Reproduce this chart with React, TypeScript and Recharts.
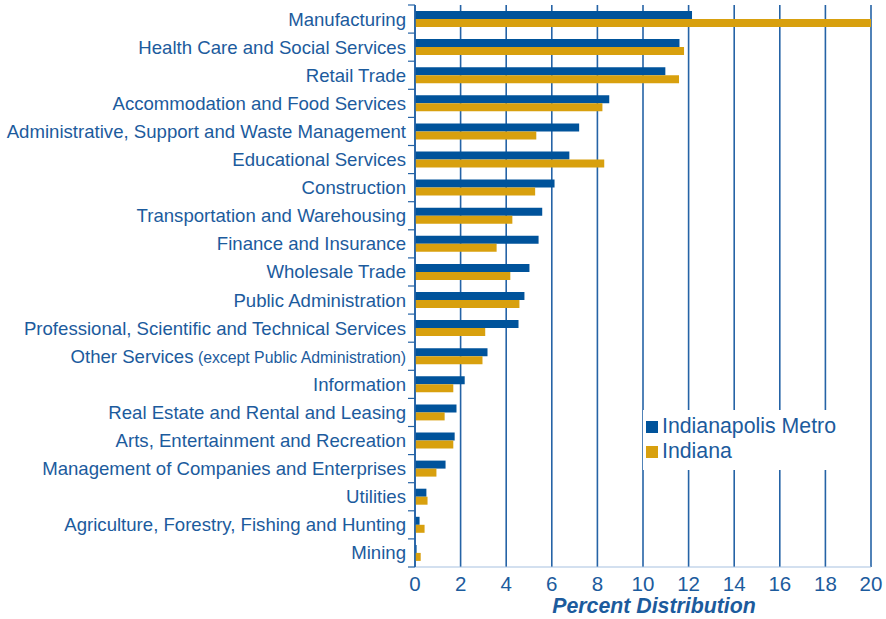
import { Bar, BarChart, CartesianGrid, Legend, XAxis, YAxis } from "recharts";

const industries = [
  "Manufacturing",
  "Health Care and Social Services",
  "Retail Trade",
  "Accommodation and Food Services",
  "Administrative, Support and Waste Management",
  "Educational Services",
  "Construction",
  "Transportation and Warehousing",
  "Finance and Insurance",
  "Wholesale Trade",
  "Public Administration",
  "Professional, Scientific and Technical Services",
  "Other Services (except Public Administration)",
  "Information",
  "Real Estate and Rental and Leasing",
  "Arts, Entertainment and Recreation",
  "Management of Companies and Enterprises",
  "Utilities",
  "Agriculture, Forestry, Fishing and Hunting",
  "Mining",
];

const metroValues = [
  12.15, 11.6, 10.98, 8.52, 7.2, 6.77, 6.12, 5.58, 5.42, 5.02, 4.8, 4.54, 3.18, 2.18, 1.82, 1.74, 1.34, 0.5, 0.2,
  0.07,
];
const indianaValues = [
  20.0, 11.8, 11.58, 8.22, 5.32, 8.3, 5.27, 4.27, 3.58, 4.18, 4.58, 3.08, 2.96, 1.68, 1.3, 1.68, 0.94, 0.55, 0.42,
  0.25,
];

const xTicks = [0, 2, 4, 6, 8, 10, 12, 14, 16, 18, 20];
const legendOrder = ["Indianapolis Metro", "Indiana"];

const data = industries.map((name, i) => ({ name, metro: metroValues[i], indiana: indianaValues[i] }));

const BLUE = "#00539b";
const GOLD = "#d8a00e";
const TEXT = "#1c5b9d";
const LINE = "#2563a6";
const FONT = "'Liberation Sans', Arial, Helvetica, sans-serif";
const BAND = 562 / industries.length;

function IndustryTick(props: any) {
  const { x, y, payload, index } = props;
  const label: string = payload.value;
  const paren = label.indexOf(" (");
  const main = paren >= 0 ? label.slice(0, paren) : label;
  const extra = paren >= 0 ? label.slice(paren) : "";
  return (
    <g>
      <line x1={x + 1} x2={x + 8} y1={y + BAND / 2} y2={y + BAND / 2} stroke={LINE} strokeWidth={1.2} />
      {index === 0 && <line x1={x + 1} x2={x + 8} y1={y - BAND / 2} y2={y - BAND / 2} stroke={LINE} strokeWidth={1.2} />}
      <text x={x - 1} y={y} dy="0.35em" textAnchor="end" fill={TEXT} fontSize={18.6} fontFamily={FONT}>
        {main}
        {extra && <tspan fontSize={15.8}>{extra}</tspan>}
      </text>
    </g>
  );
}

function LegendBox(props: any) {
  const items = [...(props.payload || [])].sort(
    (a: any, b: any) => legendOrder.indexOf(a.value) - legendOrder.indexOf(b.value)
  );
  return (
    <div style={{ background: "#fff", padding: "4px 0 6px 3px", fontFamily: FONT }}>
      {items.map((it: any) => (
        <div key={it.value} style={{ display: "flex", alignItems: "center", height: 25, color: TEXT, fontSize: 21.3 }}>
          <span style={{ width: 12, height: 12, background: it.color, marginRight: 4, display: "inline-block" }} />
          {it.value}
        </div>
      ))}
    </div>
  );
}

function AxisTitle(props: any) {
  const { viewBox } = props;
  return (
    <text
      x={viewBox.x + viewBox.width / 2 + 11}
      y={viewBox.y + 46}
      textAnchor="middle"
      fill={TEXT}
      fontSize={21.3}
      fontWeight="bold"
      fontStyle="italic"
      fontFamily={FONT}
    >
      Percent Distribution
    </text>
  );
}

export default function App() {
  return (
    <div style={{ position: "absolute", left: 0, top: 0, width: 886, height: 619, background: "#fff" }}>
      <BarChart
        width={886}
        height={619}
        data={data}
        layout="vertical"
        margin={{ top: 5, right: 15, bottom: 0, left: 0 }}
        barGap={0}
        barSize={8}
      >
        <CartesianGrid horizontal={false} stroke={LINE} strokeWidth={1.6} />
        <XAxis
          type="number"
          domain={[0, 20]}
          ticks={xTicks}
          interval={0}
          height={52}
          tickLine={false}
          tickMargin={3}
          axisLine={{ stroke: "#a7c1e0", strokeWidth: 1 }}
          tick={{ fill: TEXT, fontSize: 20.5, fontFamily: FONT }}
          label={<AxisTitle />}
          allowDataOverflow
        />
        <XAxis
          xAxisId="top"
          type="number"
          orientation="top"
          domain={[0, 20]}
          height={0}
          tick={false}
          tickLine={false}
          axisLine={{ stroke: LINE, strokeWidth: 1.6 }}
        />
        <YAxis
          type="category"
          dataKey="name"
          width={415}
          interval={0}
          tickLine={false}
          axisLine={{ stroke: LINE, strokeWidth: 1.6 }}
          tick={<IndustryTick />}
        />
        <Legend
          layout="horizontal"
          verticalAlign="middle"
          align="center"
          content={<LegendBox />}
          wrapperStyle={{ left: 643, top: 410, width: 215 }}
        />
        <Bar dataKey="metro" name="Indianapolis Metro" fill={BLUE} isAnimationActive={false} />
        <Bar dataKey="indiana" name="Indiana" fill={GOLD} isAnimationActive={false} />
      </BarChart>
    </div>
  );
}
